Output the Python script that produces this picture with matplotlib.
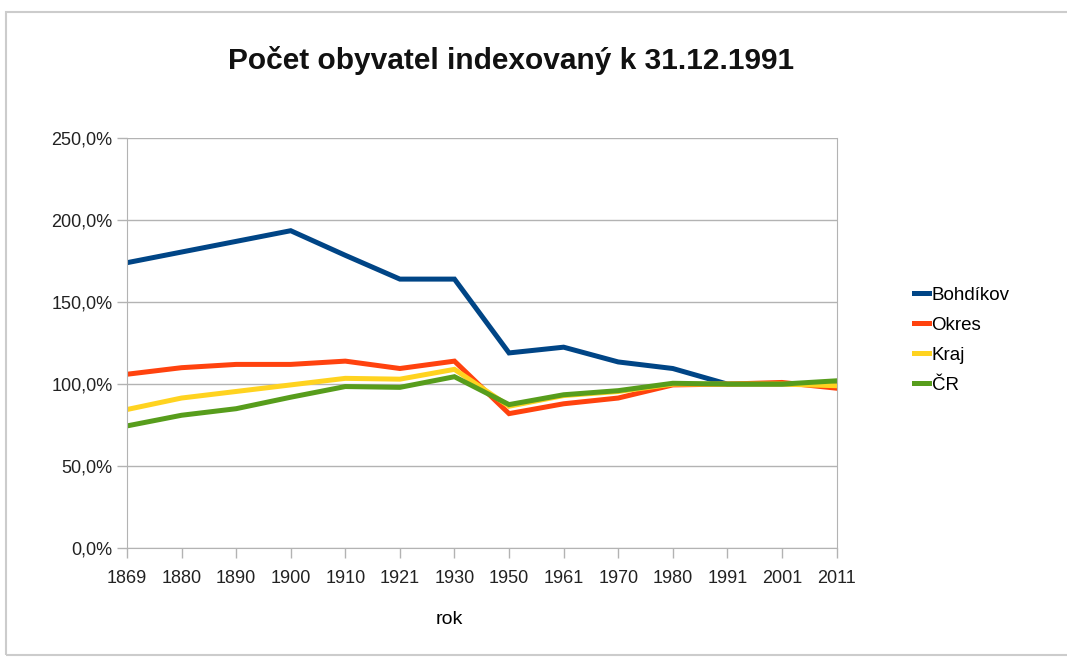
import matplotlib.pyplot as plt
from matplotlib.patches import Rectangle
from matplotlib.ticker import FuncFormatter

# data (index, % of 31.12.1991)
years = ['1869', '1880', '1890', '1900', '1910', '1921', '1930',
         '1950', '1961', '1970', '1980', '1991', '2001', '2011']
bohdikov = [174, 180.5, 187, 193.5, 178.5, 164, 164, 119, 122.5, 113.5, 109.5, 100, 100, 100]
okres = [106, 110, 112, 112, 114, 109.5, 114, 82, 88, 91.5, 99.5, 100, 101, 97.5]
kraj = [84.5, 91.5, 95.5, 99.5, 103.5, 103, 109, 86.5, 93, 95.5, 100, 100, 100, 99]
cr = [74.5, 81, 85, 92, 98.5, 98, 104.5, 87.5, 93.5, 96, 100.5, 100, 100, 102]

series = [('Bohdíkov', bohdikov, '#004586'),
          ('Okres', okres, '#ff420e'),
          ('Kraj', kraj, '#ffd320'),
          ('ČR', cr, '#579d1c')]

plt.rcParams['font.family'] = ['Liberation Sans', 'DejaVu Sans']

fig = plt.figure(figsize=(10.67, 6.62), dpi=100)
ax = fig.add_axes([0.119, 0.172, 0.665, 0.6195])

x = list(range(len(years)))
for name, vals, col in series:
    ax.plot(x, vals, color=col, lw=3.6, label=name, solid_joinstyle='miter')

ax.set_xlim(0, len(years) - 1)
ax.set_ylim(0, 250)
ax.set_yticks([0, 50, 100, 150, 200, 250])
ax.yaxis.set_major_formatter(FuncFormatter(lambda v, p: f'{v:.1f}%'.replace('.', ',')))
ax.set_xticks(x)
ax.set_xticklabels(years)
ax.tick_params(labelsize=13, colors='#b3b3b3', labelcolor='#222222', length=7, width=1)
ax.tick_params(axis='x', pad=9)
ax.grid(axis='y', color='#b3b3b3', lw=1)
ax.set_axisbelow(True)
for side in ['left', 'right', 'bottom']:
    ax.spines[side].set_color('#b3b3b3')
ax.spines['top'].set_visible(False)

fig.text(0.479, 0.909, 'Počet obyvatel indexovaný k 31.12.1991', fontsize=21.5,
         fontweight='bold', ha='center', va='center', color='#111111')
fig.text(0.421, 0.052, 'rok', fontsize=14, ha='center', va='bottom')

ax.legend(loc='center left', bbox_to_anchor=(1.085, 0.507), frameon=False, fontsize=13.5,
          handlelength=0.8, handletextpad=0.15, labelspacing=0.68)

# screenshot frame
fig.patches.append(Rectangle((0.006, 0.01), 1.2, 0.972, transform=fig.transFigure,
                             fill=False, edgecolor='#cccccc', lw=1.5))

fig.savefig('out.png', dpi=100)
